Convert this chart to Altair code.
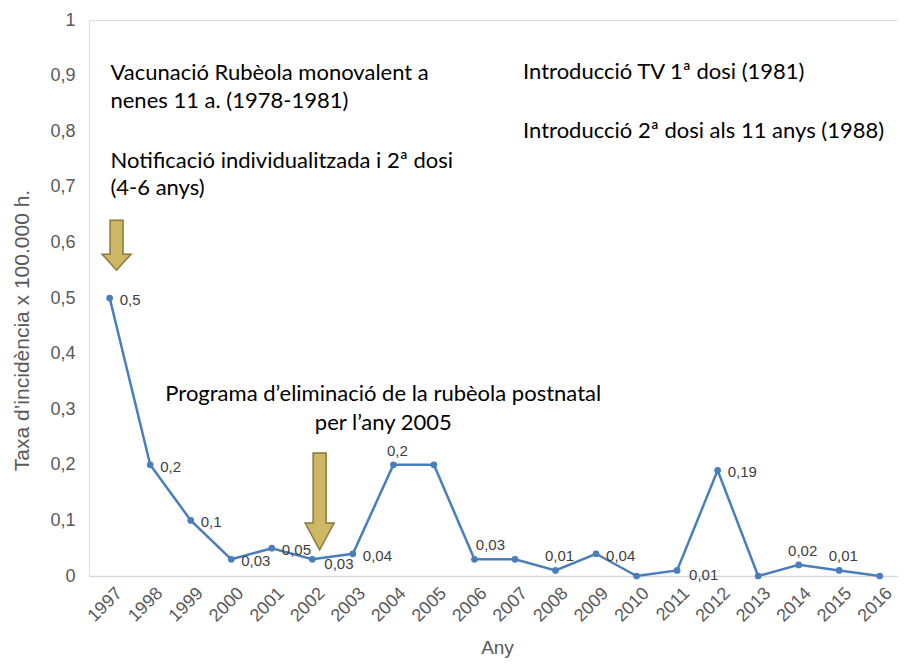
import altair as alt
import pandas as pd

# ---- data ----
years = list(range(1997, 2017))
rates = [0.5, 0.2, 0.1, 0.03, 0.05, 0.03, 0.04, 0.2, 0.2, 0.03,
         0.03, 0.01, 0.04, 0.0, 0.01, 0.19, 0.0, 0.02, 0.01, 0.0]
label_side = ["right", "right", "right", "right", "right", "rightlow", "right",
              "above", "none", "aboveright", "none", "above", "right", "none",
              "rightlow", "right", "none", "above", "above", "none"]

ann_text = [
    "Vacunació Rubèola monovalent a",
    "nenes 11 a. (1978-1981)",
    "Notificació individualitzada i 2ª dosi",
    "(4-6 anys)",
    "Introducció TV 1ª dosi (1981)",
    "Introducció 2ª dosi als 11 anys (1988)",
    "Programa d’eliminació de la rubèola postnatal",
    "per l’any 2005",
]
ann_year = [1997.02, 1997.02, 1997.02, 1997.02, 2007.2, 2007.2, 2003.75, 2003.75]
ann_value = [0.905, 0.855, 0.747, 0.698, 0.906, 0.800, 0.327, 0.275]
ann_align = ["left", "left", "left", "left", "left", "left", "center", "center"]

arrow_year = [1997.17, 2002.18]
arrow_value = [0.595, 0.134]

# ---- tables ----
df = pd.DataFrame({"year": years, "rate": rates, "side": label_side})
df["label"] = [("0" if v == 0 else str(v).replace(".", ",")) for v in rates]
ann = pd.DataFrame({"year": ann_year, "value": ann_value, "text": ann_text, "align": ann_align})
arr = pd.DataFrame({"year": arrow_year, "value": arrow_value, "id": ["a1", "a2"]})

x_scale = alt.Scale(domain=[1996.49, 2016.45], nice=False, zero=False)
y_scale = alt.Scale(domain=[0, 1], nice=False)

GREY = "#595959"
x_axis = alt.Axis(
    values=years, format="d", labelAngle=-45, labelFontSize=18, labelColor=GREY,
    labelFont="Liberation Sans", ticks=False, grid=False, domainColor="#d9d9d9",
    domainWidth=1.5, labelPadding=8, labelOffset=3, labelOverlap=False, labelFlush=False,
    title="Any", titleFont="Liberation Sans",
    titleFontSize=19, titleFontWeight="normal", titleColor=GREY,
    titleX=408, titleY=77, titleBaseline="alphabetic",
)
y_axis = alt.Axis(
    values=[i / 10 for i in range(11)],
    labelExpr="replace(format(datum.value, '.1~f'), '.', ',')",
    labelFontSize=18, labelColor=GREY, labelFont="Liberation Sans",
    ticks=False, grid=False, domain=False, labelPadding=14, labelOverlap=False,
    title="Taxa d’incidència x 100.000 h.", titleFont="Liberation Sans",
    titleFontSize=21, titleFontWeight="normal", titleColor=GREY,
    titleX=-61, titleY=310, titleBaseline="alphabetic",
)

BLUE = "#4a7ebb"

base = alt.Chart(df)
line = base.mark_line(color=BLUE, strokeWidth=2.5).encode(
    x=alt.X("year:Q", scale=x_scale, axis=x_axis),
    y=alt.Y("rate:Q", scale=y_scale, axis=y_axis),
)
pts = base.mark_point(filled=True, color=BLUE, size=45, opacity=1).encode(
    x="year:Q", y="rate:Q")

lab_font = dict(font="Liberation Sans", fontSize=15, color="#404040")
lab_right = base.transform_filter("datum.side == 'right'").mark_text(
    align="left", baseline="middle", dx=10, dy=2, **lab_font).encode(
    x="year:Q", y="rate:Q", text="label:N")
lab_rightlow = base.transform_filter("datum.side == 'rightlow'").mark_text(
    align="left", baseline="middle", dx=12, dy=5, **lab_font).encode(
    x="year:Q", y="rate:Q", text="label:N")
lab_above = base.transform_filter("datum.side == 'above'").mark_text(
    align="center", baseline="middle", dx=4, dy=-14, **lab_font).encode(
    x="year:Q", y="rate:Q", text="label:N")
lab_aboveright = base.transform_filter("datum.side == 'aboveright'").mark_text(
    align="center", baseline="middle", dx=16, dy=-14, **lab_font).encode(
    x="year:Q", y="rate:Q", text="label:N")

ann_font = dict(font="Lato", fontSize=22, color="#000000", baseline="middle")
ann_left = alt.Chart(ann).transform_filter("datum.align == 'left'").mark_text(
    align="left", **ann_font).encode(x="year:Q", y="value:Q", text="text:N")
ann_center = alt.Chart(ann).transform_filter("datum.align == 'center'").mark_text(
    align="center", **ann_font).encode(x="year:Q", y="value:Q", text="text:N")

ARROW1 = "M-0.26,-1 L0.26,-1 L0.26,0.36 L0.58,0.36 L0,1 L-0.58,0.36 L-0.26,0.36 Z"
ARROW2 = "M-0.134,-1 L0.134,-1 L0.134,0.443 L0.299,0.443 L0,1 L-0.299,0.443 L-0.134,0.443 Z"
arrow_style = dict(filled=True, fill="#cdb764", stroke="#8c7837", strokeWidth=1.5, opacity=1)
arrow1 = alt.Chart(arr).transform_filter("datum.id == 'a1'").mark_point(
    shape=ARROW1, size=2500, **arrow_style).encode(x="year:Q", y="value:Q")
arrow2 = alt.Chart(arr).transform_filter("datum.id == 'a2'").mark_point(
    shape=ARROW2, size=9409, **arrow_style).encode(x="year:Q", y="value:Q")

chart = alt.layer(
    line, pts, lab_right, lab_rightlow, lab_above, lab_aboveright,
    ann_left, ann_center, arrow1, arrow2,
).properties(
    width=809, height=556,
    autosize=alt.AutoSizeParams(type="none"),
    padding={"left": 81, "top": 12, "right": 0, "bottom": 82},
).configure_view(stroke=None).configure(background="white")

chart.save("out.html", embed_options={"renderer": "svg", "actions": False})
